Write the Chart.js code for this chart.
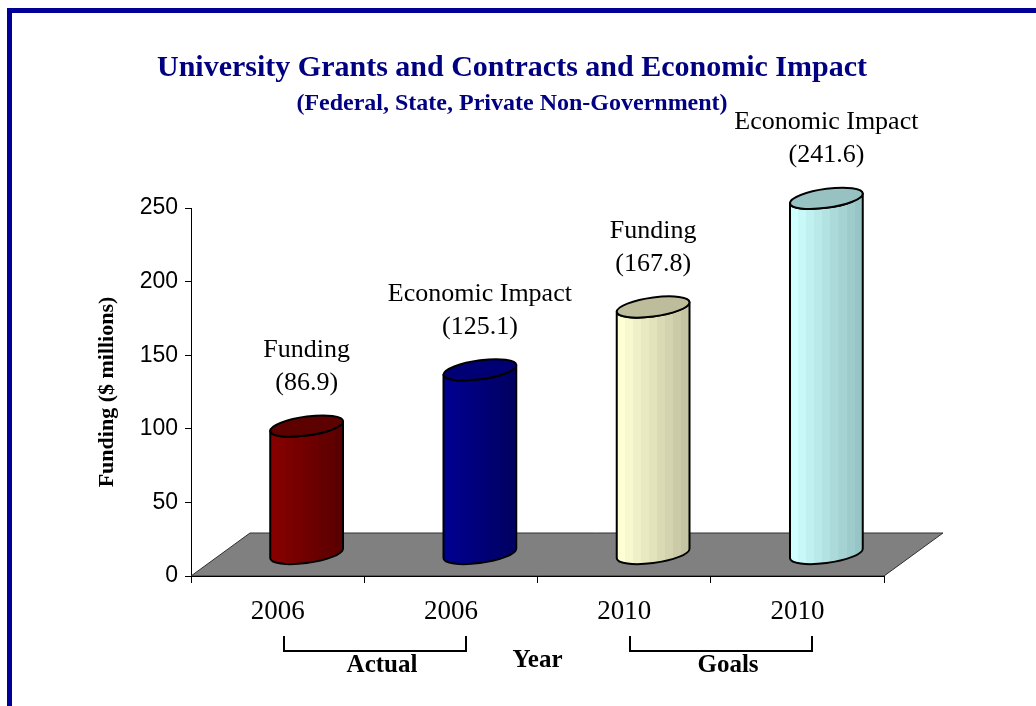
<!DOCTYPE html>
<html>
<head>
<meta charset="utf-8">
<script src="https://cdn.jsdelivr.net/npm/chart.js@4.4.1/dist/chart.umd.min.js"></script>
<style>
  html, body { margin: 0; padding: 0; background: #ffffff; }
  #wrap { width: 1036px; height: 706px; }
</style>
</head>
<body>
<div id="wrap"><canvas id="c" width="1036" height="706"></canvas></div>
<script>
// ---- data ----
const categories = ['2006', '2006', '2010', '2010'];
const seriesNames = ['Funding', 'Economic Impact', 'Funding', 'Economic Impact'];
const values = [86.9, 125.1, 167.8, 241.6];
const yTickValues = [0, 50, 100, 150, 200, 250];
const groupLabels = ['Actual', 'Goals'];
const groupFrom = [0, 2];
const groupTo = [1, 3];

// ---- styles ----
const lightColors = ['#860000', '#000090', '#FFFFD4', '#CFFFFF'];
const darkColors = ['#5A0000', '#000062', '#C4C4A2', '#97C4C4'];
const topColors = ['#5C0000', '#000074', '#BDBD9B', '#98C2C2'];
const SERIF = '"Liberation Serif", "Times New Roman", serif';
const SANS = '"Liberation Sans", Arial, sans-serif';

function hexToRgb(h) {
  const n = parseInt(h.slice(1), 16);
  return [(n >> 16) & 255, (n >> 8) & 255, n & 255];
}
function mix(a, b, t) {
  const A = hexToRgb(a), B = hexToRgb(b);
  return 'rgb(' + A.map((v, i) => Math.round(v + (B[i] - v) * t)).join(',') + ')';
}

const frameAndFloor = {
  id: 'frameAndFloor',
  beforeDraw(chart) {
    const ctx = chart.ctx;
    ctx.save();
    ctx.fillStyle = '#ffffff';
    ctx.fillRect(0, 0, chart.width, chart.height);
    ctx.fillStyle = '#000099';
    ctx.fillRect(7, 8, chart.width - 7, 5);
    ctx.fillRect(7, 8, 5, chart.height - 8);
    ctx.restore();
  },
  beforeDatasetsDraw(chart) {
    const ctx = chart.ctx;
    const a = chart.chartArea;
    const y0 = chart.scales.y.getPixelForValue(0);
    const dx = 59, dy = -43;
    ctx.save();
    ctx.beginPath();
    ctx.moveTo(a.left, y0);
    ctx.lineTo(a.right, y0);
    ctx.lineTo(a.right + dx, y0 + dy);
    ctx.lineTo(a.left + dx, y0 + dy);
    ctx.closePath();
    ctx.fillStyle = '#808080';
    ctx.fill();
    ctx.strokeStyle = '#303030';
    ctx.lineWidth = 1;
    ctx.stroke();
    ctx.beginPath();
    ctx.moveTo(a.left, y0 + 0.5);
    ctx.lineTo(a.right, y0 + 0.5);
    ctx.strokeStyle = '#000000';
    ctx.stroke();
    ctx.restore();
  }
};

const cylinders = {
  id: 'cylinders',
  afterDatasetsDraw(chart) {
    const ctx = chart.ctx;
    const meta = chart.getDatasetMeta(0);
    const dx = 29, dy = -22, ry = 9.5, shear = -0.13;
    meta.data.forEach((bar, i) => {
      const p = bar.getProps(['x', 'y', 'base', 'width'], true);
      const cx = p.x + dx;
      const rx = p.width / 2;
      const topY = p.y + dy;
      const botY = p.base + dy;
      ctx.save();
      ctx.translate(cx, 0);
      ctx.transform(1, shear, 0, 1, 0, 0);
      const g = ctx.createLinearGradient(-rx, 0, rx, 0);
      const bands = 9;
      for (let b = 0; b < bands; b++) {
        const c = mix(lightColors[i], darkColors[i], b / (bands - 1));
        g.addColorStop(b / bands, c);
        g.addColorStop((b + 1) / bands - 0.0001, c);
      }
      ctx.beginPath();
      ctx.moveTo(-rx, topY);
      ctx.lineTo(-rx, botY);
      ctx.ellipse(0, botY, rx, ry, 0, Math.PI, 0, true);
      ctx.lineTo(rx, topY);
      ctx.ellipse(0, topY, rx, ry, 0, 0, Math.PI, false);
      ctx.closePath();
      ctx.fillStyle = g;
      ctx.fill();
      ctx.lineWidth = 2;
      ctx.strokeStyle = '#000000';
      ctx.lineJoin = 'round';
      ctx.stroke();
      ctx.beginPath();
      ctx.ellipse(0, topY, rx, ry, 0, 0, Math.PI * 2);
      ctx.fillStyle = topColors[i];
      ctx.fill();
      ctx.stroke();
      ctx.restore();

      ctx.save();
      ctx.fillStyle = '#000000';
      ctx.font = '26px ' + SERIF;
      ctx.textAlign = 'center';
      ctx.textBaseline = 'middle';
      ctx.fillText(seriesNames[i], cx, topY - 76);
      ctx.fillText('(' + values[i].toFixed(1) + ')', cx, topY - 43);
      ctx.restore();
    });
  }
};

const brackets = {
  id: 'brackets',
  afterDraw(chart) {
    const ctx = chart.ctx;
    const xs = chart.scales.x;
    const y0 = chart.chartArea.bottom;
    ctx.save();
    ctx.strokeStyle = '#000000';
    ctx.lineWidth = 2;
    ctx.fillStyle = '#000000';
    ctx.font = 'bold 25px ' + SERIF;
    ctx.textAlign = 'center';
    ctx.textBaseline = 'middle';
    groupLabels.forEach((lab, k) => {
      const x1 = Math.round(xs.getPixelForValue(groupFrom[k]) + 6);
      const x2 = Math.round(xs.getPixelForValue(groupTo[k]) + 15);
      ctx.beginPath();
      ctx.moveTo(x1, y0 + 60);
      ctx.lineTo(x1, y0 + 75);
      ctx.lineTo(x2, y0 + 75);
      ctx.lineTo(x2, y0 + 60);
      ctx.stroke();
      ctx.fillText(lab, (x1 + x2) / 2 + 7, y0 + 90);
    });
    ctx.restore();
  }
};

new Chart(document.getElementById('c'), {
  type: 'bar',
  data: {
    labels: categories,
    datasets: [{
      label: 'Funding ($ millions)',
      data: values,
      backgroundColor: 'rgba(0,0,0,0)',
      borderWidth: 0,
      categoryPercentage: 1,
      barPercentage: 0.42
    }]
  },
  options: {
    responsive: false,
    animation: false,
    layout: { padding: { left: 0, right: 12, top: 0, bottom: 0 } },
    plugins: {
      legend: { display: false },
      tooltip: { enabled: false },
      title: {
        display: true,
        text: 'University Grants and Contracts and Economic Impact',
        color: '#000080',
        font: { family: SERIF, size: 30, weight: 'bold', lineHeight: 1.2 },
        padding: { top: 50, bottom: 0 }
      },
      subtitle: {
        display: true,
        text: '(Federal, State, Private Non-Government)',
        color: '#000080',
        font: { family: SERIF, size: 24, weight: 'bold', lineHeight: 1.2 },
        padding: { top: 3.6, bottom: 89.6 }
      }
    },
    scales: {
      x: {
        type: 'category',
        offset: true,
        grid: { display: true, offset: true, drawOnChartArea: false, drawTicks: true, tickLength: 7, color: '#000000' },
        border: { display: true, color: '#000000', width: 1 },
        ticks: { color: '#000000', font: { family: SERIF, size: 27 }, padding: 13, maxRotation: 0 },
        title: {
          display: true, text: 'Year', color: '#000000',
          font: { family: SERIF, size: 25, weight: 'bold', lineHeight: 1.2 },
          padding: { top: 0, bottom: 30 }
        },
        afterFit(s) { s.height = 130; }
      },
      y: {
        type: 'linear',
        position: 'left',
        min: 0,
        max: 250,
        afterBuildTicks(s) { s.ticks = yTickValues.map(v => ({ value: v })); },
        grid: { display: true, drawOnChartArea: false, drawTicks: true, tickLength: 6, color: '#000000' },
        border: { display: true, color: '#000000', width: 1 },
        ticks: { color: '#000000', font: { family: SANS, size: 23 }, padding: 7 },
        title: {
          display: true, text: 'Funding ($ millions)', color: '#000000',
          font: { family: SERIF, size: 22, weight: 'bold', lineHeight: 1.2 },
          padding: { top: 94, bottom: 0 }
        },
        afterFit(s) { s.width = 191; }
      },
      y2: {
        type: 'linear',
        position: 'right',
        display: true,
        grid: { display: false },
        border: { display: false },
        ticks: { display: false },
        afterFit(s) { s.width = 140; }
      }
    }
  },
  plugins: [frameAndFloor, cylinders, brackets]
});
</script>
</body>
</html>
